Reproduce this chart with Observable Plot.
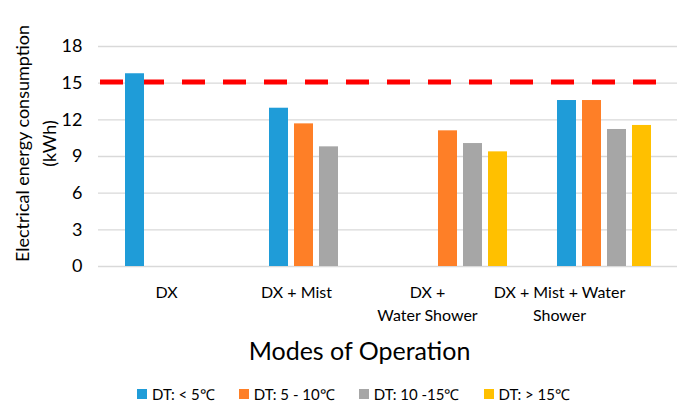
<!DOCTYPE html>
<html>
<head>
<meta charset="utf-8">
<script src="https://cdn.jsdelivr.net/npm/d3@7"></script>
<script src="https://cdn.jsdelivr.net/npm/@observablehq/plot@0.6"></script>
<style>
  html, body { margin: 0; padding: 0; background: #fff; }
  body { width: 677px; height: 405px; overflow: hidden; font-family: Lato, "Open Sans", sans-serif; color: #000; }
  #chart { position: relative; width: 677px; height: 330px; }
  #chart svg { position: absolute; left: 0; top: 0; }
  #title { text-align: center; font-size: 25px; padding-left: 42px; height: 36px; line-height: 36px; margin-top: 2px; }
  #legend { display: flex; justify-content: center; padding-left: 30px; gap: 24px; font-size: 15px; margin-top: 16px; }
  .item { display: flex; align-items: center; gap: 5px; }
  .sw { width: 10px; height: 10px; display: inline-block; }
</style>
</head>
<body>
<div id="chart"></div>
<div id="title">Modes of Operation</div>
<div id="legend"></div>
<script>
const categories = ["DX", "DX + Mist", "DX + Water Shower", "DX + Mist + Water Shower"];
const categoryLabels = ["DX", "DX + Mist", "DX +\nWater Shower", "DX + Mist + Water\nShower"];
const series = ["DT: < 5℃", "DT: 5 - 10℃", "DT: 10 -15℃", "DT: > 15℃"];
const colors = ["#1f9cd8", "#fe7f27", "#a6a6a6", "#ffc000"];
const dtBelow5 = [15.77, 12.95, null, 13.58];
const dt5to10 = [null, 11.67, 11.1, 13.58];
const dt10to15 = [null, 9.79, 10.06, 11.21];
const dtAbove15 = [null, null, 9.38, 11.54];
const limitLine = 15.1;
const yTicks = [0, 3, 6, 9, 12, 15, 18];
const yLabel = "Electrical energy consumption\n(kWh)";

const seriesValues = [dtBelow5, dt5to10, dt10to15, dtAbove15];
const rows = [];
categories.forEach((c, i) => {
  series.forEach((s, j) => {
    const v = seriesValues[j][i];
    if (v != null) rows.push({category: c, series: s, value: v});
  });
});
const labelOf = new Map(categories.map((c, i) => [c, categoryLabels[i]]));

const common = {
  width: 677,
  height: 330,
  marginLeft: 98,
  marginRight: 0,
  marginTop: 46,
  marginBottom: 64,
  style: {fontFamily: "Lato, 'Open Sans', sans-serif", color: "#000", background: "transparent"}
};

// bottom layer: gridlines and the dashed reference line (drawn behind the bars)
const under = Plot.plot({
  ...common,
  x: {domain: categories, padding: 0, axis: null},
  y: {domain: [0, 18], axis: null},
  marks: [
    Plot.gridY(yTicks, {stroke: "#d9d9d9", strokeOpacity: 1, strokeWidth: 1.3}),
    Plot.ruleY([limitLine], {stroke: "#ff0000", strokeWidth: 5, strokeDasharray: "23,18", insetLeft: 2, insetRight: 17})
  ]
});

// category labels sit progressively left of their bar groups in the reference
const labelNudge = [-6, -20, -33, -45];

// top layer: bars and axes
const over = Plot.plot({
  ...common,
  fx: {domain: categories, padding: 0, label: null, axis: null},
  x: {domain: series, paddingInner: 0.23, paddingOuter: 0.9, axis: null},
  y: {domain: [0, 18], label: null},
  color: {domain: series, range: colors},
  marks: [
    Plot.axisY(yTicks, {tickSize: 0, tickPadding: 18, fontSize: 18, label: null}),
    ...categories.map((c, i) => Plot.text([c], {fx: d => d, text: d => labelOf.get(d), frameAnchor: "bottom", lineAnchor: "top", textAnchor: "middle", dy: 15, dx: labelNudge[i], fontSize: 16, lineHeight: 1.45})),
    Plot.barY(rows, {fx: "category", x: "series", y: "value", fill: "series"})
  ]
});

// y axis title layer
const titleLayer = Plot.plot({
  ...common,
  x: {domain: categories, padding: 0, axis: null},
  y: {domain: [0, 18], axis: null},
  marks: [
    Plot.text([yLabel], {frameAnchor: "left", textAnchor: "middle", lineAnchor: "middle", rotate: -90, dx: -65, dy: -13, fontSize: 18, lineHeight: 1.5})
  ]
});

const chartDiv = document.getElementById("chart");
chartDiv.appendChild(under);
chartDiv.appendChild(over);
chartDiv.appendChild(titleLayer);

const legend = document.getElementById("legend");
series.forEach((s, i) => {
  const item = document.createElement("span");
  item.className = "item";
  const sw = document.createElement("span");
  sw.className = "sw";
  sw.style.background = colors[i];
  item.appendChild(sw);
  item.appendChild(document.createTextNode(s));
  legend.appendChild(item);
});
</script>
</body>
</html>
